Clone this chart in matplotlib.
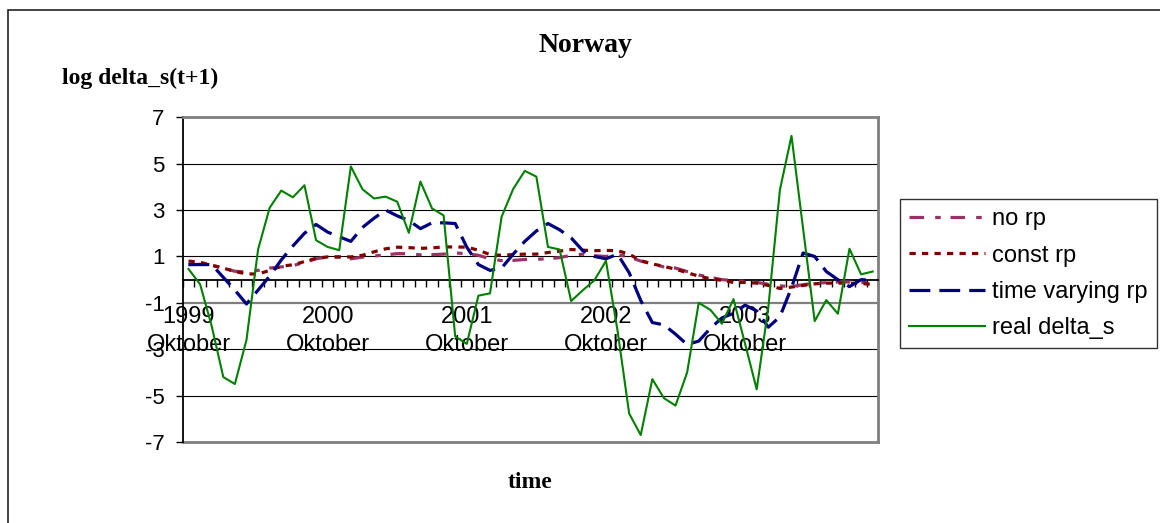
import numpy as np
import matplotlib
matplotlib.use("Agg")
import matplotlib.pyplot as plt
from matplotlib.patches import Rectangle

plt.rcParams['lines.scale_dashes'] = False
plt.rcParams['axes.unicode_minus'] = False

# monthly observations, Oktober 1999 onwards
n_obs = 60
year_labels = ['1999', '2000', '2001', '2002', '2003']
month_label = 'Oktober'

no_rp = [0.65, 0.66, 0.62, 0.50, 0.36, 0.33, 0.40, 0.50, 0.55, 0.60,
         0.75, 0.90, 0.98, 0.98, 0.90, 0.97, 1.02, 1.07, 1.12, 1.12,
         1.07, 1.08, 1.10, 1.15, 1.12, 1.05, 0.90, 0.82, 0.83, 0.87,
         0.88, 0.90, 0.95, 1.05, 1.10, 1.03, 1.00, 1.08, 0.98, 0.80,
         0.68, 0.55, 0.50, 0.35, 0.20, 0.10, 0.00, -0.04, -0.08, -0.12,
         -0.20, -0.27, -0.30, -0.22, -0.15, -0.13, -0.10, -0.10, -0.13, -0.10]

const_rp = [0.80, 0.75, 0.62, 0.50, 0.35, 0.25, 0.24, 0.40, 0.58, 0.64,
            0.78, 0.92, 0.98, 0.98, 0.98, 1.05, 1.20, 1.33, 1.40, 1.38,
            1.35, 1.37, 1.41, 1.41, 1.40, 1.27, 1.08, 1.05, 1.08, 1.10,
            1.10, 1.17, 1.23, 1.30, 1.27, 1.25, 1.26, 1.25, 1.10, 0.82,
            0.68, 0.57, 0.45, 0.30, 0.15, 0.04, -0.03, -0.12, -0.12, -0.15,
            -0.25, -0.38, -0.32, -0.25, -0.18, -0.15, -0.15, -0.15, -0.17, -0.20]

time_varying_rp = [0.65, 0.65, 0.65, 0.10, -0.45, -1.05, -0.45, 0.15, 0.85, 1.45,
                   2.00, 2.38, 2.05, 1.85, 1.65, 2.25, 2.65, 3.00, 2.75, 2.55,
                   2.20, 2.45, 2.45, 2.42, 1.40, 0.65, 0.40, 0.50, 1.10, 1.65,
                   2.10, 2.42, 2.15, 1.80, 1.25, 1.00, 0.90, 1.10, 0.30, -0.90,
                   -1.85, -1.95, -2.35, -2.80, -2.65, -2.10, -1.65, -1.45, -1.10, -1.35,
                   -2.05, -1.60, -0.35, 1.15, 1.00, 0.35, 0.00, -0.30, 0.00, -0.02]

real_delta_s = [0.46, -0.20, -2.00, -4.20, -4.50, -2.60, 1.30, 3.10, 3.84, 3.55,
                4.07, 1.70, 1.41, 1.27, 4.88, 3.90, 3.50, 3.58, 3.36, 2.02,
                4.23, 3.07, 2.77, -2.45, -2.77, -0.69, -0.59, 2.71, 3.91, 4.69,
                4.44, 1.41, 1.30, -0.92, -0.46, -0.03, 0.81, -2.20, -5.77, -6.70,
                -4.29, -5.11, -5.43, -4.00, -1.00, -1.30, -1.90, -0.84, -2.77, -4.73,
                -1.20, 3.87, 6.20, 2.20, -1.79, -0.88, -1.47, 1.33, 0.23, 0.35]

x = np.arange(n_obs)

fig = plt.figure(figsize=(11.6, 5.23), dpi=100)
ax = fig.add_axes([0.1575, 0.1549, 0.7573 - 0.1575, 0.7757 - 0.1549])

# outer chart frame
fig.patches.append(Rectangle((8 / 1160, -0.1), 1.2, 1 - 10 / 523 + 0.1,
                             transform=fig.transFigure, fill=False,
                             edgecolor='#222222', linewidth=1.2))

# horizontal gridlines
for yv in [5, 3, 1, -3, -5]:
    ax.axhline(yv, color='black', linewidth=0.8, zorder=1)
ax.axhline(-1, color='#7f7f7f', linewidth=1.6, zorder=1)
ax.axhline(-7, color='#7f7f7f', linewidth=2.0, zorder=1, clip_on=False)

ax.plot(x, no_rp, color='#993366', linewidth=2.3,
        dashes=(10.5, 8, 4, 7), label='no rp', zorder=3)
ax.plot(x, const_rp, color='#800000', linewidth=2.3,
        dashes=(4.5, 4.5), label='const rp', zorder=4)
ax.plot(x, time_varying_rp, color='#000080', linewidth=2.3,
        dashes=(15, 6.5), label='time varying rp', zorder=5)
ax.plot(x, real_delta_s, color='#008000', linewidth=1.5,
        label='real delta_s', zorder=6)

ax.set_xlim(-0.5, n_obs - 0.5)
ax.set_ylim(-7, 7)

ax.spines['bottom'].set_position(('data', 0))
ax.spines['bottom'].set_linewidth(1.3)
ax.spines['left'].set_linewidth(1.3)
for side in ['top', 'right']:
    ax.spines[side].set_color('#7f7f7f')
    ax.spines[side].set_linewidth(2.0)

ax.set_yticks(np.arange(-7, 8, 2))
ax.tick_params(axis='y', direction='out', length=5, width=1, pad=8,
               labelsize=16, labelfontfamily='Liberation Sans')

ax.set_xticks(x[::12])
ax.set_xticklabels([y + '\n' + month_label for y in year_labels],
                   fontsize=17, fontfamily='Liberation Sans', linespacing=1.35)
ax.set_xticks(np.arange(-0.5, n_obs, 1), minor=True)
ax.tick_params(axis='x', which='major', length=0, pad=19)
ax.tick_params(axis='x', which='minor', direction='out', length=5, width=1)

fig.text(585 / 1160, 1 - 45 / 523, 'Norway', ha='center', va='center',
         fontsize=20, fontweight='bold', fontfamily='Liberation Serif')
fig.text(62 / 1160, 1 - 78 / 523, 'log delta_s(t+1)', ha='left', va='center',
         fontsize=17, fontweight='bold', fontfamily='Liberation Serif')
fig.text(530 / 1160, 1 - 483 / 523, 'time', ha='center', va='center',
         fontsize=17, fontweight='bold', fontfamily='Liberation Serif')

leg = ax.legend(loc='upper left', bbox_to_anchor=(900 / 1160, 1 - 199 / 523),
                bbox_transform=fig.transFigure, borderaxespad=0,
                prop={'family': 'Liberation Sans', 'size': 17},
                frameon=True, fancybox=False, handlelength=3.2,
                handletextpad=0.3, labelspacing=0.6, borderpad=0.4)
leg.get_frame().set_edgecolor('black')
leg.get_frame().set_linewidth(1.0)

fig.savefig('out.png', dpi=100)
